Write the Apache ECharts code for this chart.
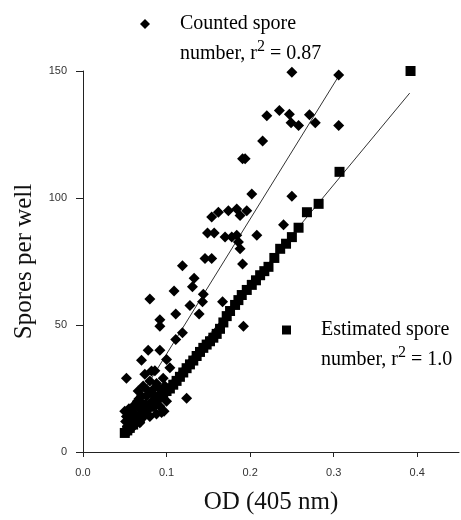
<!DOCTYPE html>
<html>
<head>
<meta charset="utf-8">
<script src="https://cdn.jsdelivr.net/npm/echarts@6/dist/echarts.min.js"></script>
<style>
  html, body { margin: 0; padding: 0; background: #fff; }
  #chart { width: 461px; height: 520px; }
</style>
</head>
<body>
<div id="chart"></div>
<script>
// counted spores (diamonds): OD and spores per well
const countedOD = [
    0.250, 0.306, 0.220, 0.235, 0.247, 0.249, 0.258, 0.271, 0.278, 0.306,
    0.215, 0.191, 0.194, 0.250, 0.202, 0.240, 0.154, 0.162, 0.174, 0.184,
    0.188, 0.196, 0.149, 0.157, 0.170, 0.178, 0.184, 0.186, 0.188, 0.208,
    0.146, 0.154, 0.191, 0.119, 0.133, 0.131, 0.109, 0.144, 0.143, 0.167,
    0.128, 0.111, 0.139, 0.080, 0.092, 0.092, 0.192, 0.119, 0.111, 0.078,
    0.092, 0.070, 0.100, 0.052, 0.124, 0.074, 0.082, 0.086, 0.104, 0.066,
    0.072, 0.078, 0.080, 0.085, 0.088, 0.098, 0.050, 0.052, 0.055, 0.058,
    0.060, 0.062, 0.065, 0.068, 0.070, 0.075, 0.083, 0.090, 0.092, 0.095,
    0.097, 0.100, 0.053, 0.056, 0.060, 0.065, 0.070, 0.075, 0.080, 0.085,
    0.088, 0.094, 0.054, 0.057, 0.051, 0.058, 0.063, 0.067, 0.071, 0.076,
    0.079, 0.082, 0.086, 0.091, 0.096, 0.062, 0.068
];
const countedSpores = [
    149.5, 148.4, 132.4, 134.4, 133.0, 129.6, 128.5, 132.8, 129.6, 128.5,
    122.4, 115.5, 115.5, 100.7, 101.6, 89.5, 92.5, 94.4, 95.0, 95.7,
    93.1, 95.0, 86.2, 86.2, 84.6, 84.6, 85.3, 82.7, 80.0, 85.3,
    76.2, 76.2, 74.0, 73.3, 68.4, 65.1, 63.4, 62.1, 59.2, 59.2,
    57.7, 54.3, 54.3, 60.2, 52.1, 49.5, 49.5, 46.9, 44.3, 40.1,
    40.1, 36.1, 36.4, 29.0, 21.2, 30.6, 31.9, 32.0, 33.2, 24.0,
    26.0, 24.0, 28.0, 25.0, 27.0, 26.0, 16.0, 14.0, 17.0, 12.0,
    18.0, 15.0, 20.0, 17.0, 22.0, 19.0, 20.0, 22.0, 18.0, 24.0,
    16.0, 20.0, 10.0, 12.0, 13.5, 14.0, 13.0, 16.0, 14.0, 18.0,
    15.0, 15.6, 8.0, 9.0, 12.0, 15.5, 18.0, 21.0, 19.0, 22.0,
    18.0, 23.0, 21.0, 25.0, 29.0, 11.0, 11.5
];

// estimated spores (squares)
const estimatedOD = [
    0.050, 0.053, 0.056, 0.060, 0.064, 0.068, 0.072, 0.076, 0.080, 0.084,
    0.088, 0.092, 0.096, 0.100, 0.104, 0.108, 0.112, 0.116, 0.120, 0.124,
    0.128, 0.132, 0.136, 0.140, 0.144, 0.148, 0.152, 0.156, 0.160, 0.164,
    0.168, 0.172, 0.176, 0.182, 0.186, 0.190, 0.196, 0.202, 0.207, 0.212,
    0.217, 0.222, 0.229, 0.236, 0.243, 0.250, 0.258, 0.268, 0.282, 0.307,
    0.392
];
const estimatedSpores = [
    7.5, 8.5, 9.5, 10.8, 12.0, 13.5, 15.0, 16.3, 17.8, 19.0,
    20.5, 21.7, 23.0, 24.0, 25.0, 26.5, 28.0, 29.6, 31.3, 33.0,
    34.5, 36.0, 37.8, 39.4, 41.0, 42.3, 43.6, 45.0, 46.5, 48.5,
    51.0, 53.5, 55.5, 57.9, 59.8, 61.8, 63.8, 65.8, 67.6, 69.6,
    71.2, 72.9, 76.4, 80.0, 82.0, 84.6, 88.3, 94.4, 97.7, 110.3,
    150.0
];

// regression lines (end points)
const countedFitOD = [0.05, 0.306];
const countedFitSpores = [12, 148];
const estimatedFitOD = [0.05, 0.391];
const estimatedFitSpores = [6, 141.3];

const xTicks = [0, 0.1, 0.2, 0.3, 0.4];
const yTicks = [0, 50, 100, 150];

function pairs(xs, ys) {
    return xs.map(function(x, i) { return [x, ys[i]]; });
}

const serif = "'Liberation Serif', 'Times New Roman', serif";
const sans = "'Liberation Sans', Arial, sans-serif";

const chart = echarts.init(document.getElementById('chart'));

const legendText = {
    color: '#000',
    fontFamily: serif,
    fontSize: 20,
    lineHeight: 30,
    padding: [30, 0, 0, 25],
    rich: {
        sup: { fontFamily: serif, fontSize: 16, lineHeight: 16, verticalAlign: 'top', color: '#000' }
    }
};

const option = {
    animation: false,
    backgroundColor: '#fff',
    grid: { left: 83, top: 71, right: 2, bottom: 65 },
    legend: [
        {
            data: ['Counted spore'],
            left: 140,
            top: -21,
            padding: 0,
            itemWidth: 10,
            itemHeight: 10,
            textStyle: legendText,
            formatter: function() { return 'Counted spore\nnumber, r{sup|2} = 0.87'; }
        },
        {
            data: ['Estimated spore'],
            left: 282,
            top: 285,
            padding: 0,
            itemWidth: 9,
            itemHeight: 9,
            textStyle: legendText,
            formatter: function() { return 'Estimated spore\nnumber, r{sup|2} = 1.0'; }
        }
    ],
    xAxis: {
        type: 'value',
        min: 0,
        max: 0.45,
        name: 'OD (405 nm)',
        nameLocation: 'middle',
        nameGap: 38,
        nameTextStyle: { fontFamily: serif, fontSize: 25, color: '#111' },
        splitLine: { show: false },
        axisLine: { lineStyle: { color: '#222', width: 1 } },
        axisTick: { length: 5, customValues: xTicks, lineStyle: { color: '#222' } },
        axisLabel: {
            customValues: xTicks,
            margin: 15,
            fontFamily: sans,
            fontSize: 11,
            color: '#333',
            formatter: function(v) { return v.toFixed(1); }
        }
    },
    yAxis: {
        type: 'value',
        min: 0,
        max: 150,
        interval: 50,
        name: 'Spores per well',
        nameLocation: 'middle',
        nameGap: 46,
        nameTextStyle: { fontFamily: serif, fontSize: 25, color: '#111' },
        splitLine: { show: false },
        axisLine: { show: true, lineStyle: { color: '#222', width: 1 } },
        axisTick: { show: true, length: 7, customValues: yTicks, lineStyle: { color: '#222' } },
        axisLabel: { customValues: yTicks, margin: 16, fontFamily: sans, fontSize: 11, color: '#333' }
    },
    series: [
        {
            name: 'Counted spore',
            type: 'scatter',
            symbol: 'diamond',
            symbolSize: 11,
            clip: false,
            itemStyle: { color: '#000', opacity: 1 },
            data: pairs(countedOD, countedSpores),
            z: 3
        },
        {
            name: 'Estimated spore',
            type: 'scatter',
            symbol: 'rect',
            symbolSize: 10,
            clip: false,
            itemStyle: { color: '#000', opacity: 1 },
            data: pairs(estimatedOD, estimatedSpores),
            z: 3
        },
        {
            name: 'Counted fit',
            type: 'line',
            showSymbol: false,
            symbol: 'none',
            lineStyle: { color: '#333', width: 1 },
            data: pairs(countedFitOD, countedFitSpores),
            z: 2
        },
        {
            name: 'Estimated fit',
            type: 'line',
            showSymbol: false,
            symbol: 'none',
            lineStyle: { color: '#333', width: 1 },
            data: pairs(estimatedFitOD, estimatedFitSpores),
            z: 2
        }
    ]
};

chart.setOption(option);
</script>
</body>
</html>
